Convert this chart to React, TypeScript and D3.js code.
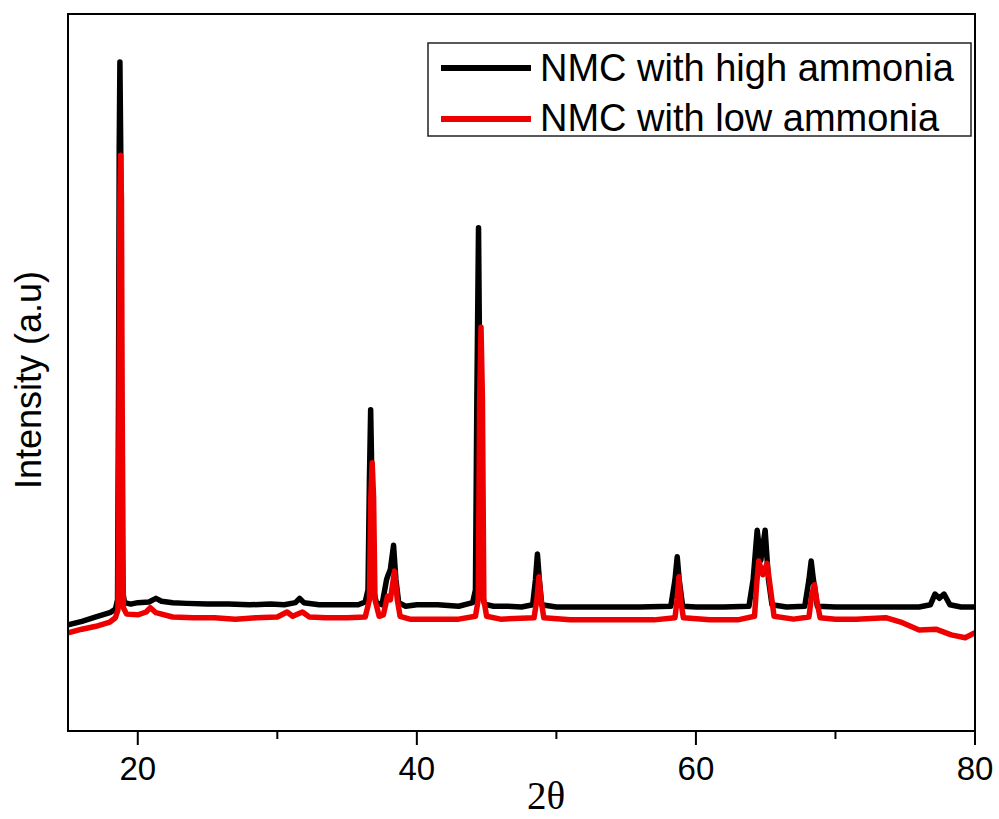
import React from "react";
import * as d3 from "d3";

// 2θ (deg) and intensity (a.u.)
const highTheta = [15.0,16.0,17.0,18.0,18.4,18.55,18.62,18.67,18.72,18.78,18.83,18.9,19.05,19.5,20.0,20.8,21.3,21.7,22.5,23.5,25,26.5,28,29.5,30.5,31.3,31.6,31.9,33,34.5,35.8,36.3,36.5,36.6,36.69,36.78,36.88,37.1,37.5,37.7,37.83,37.95,38.1,38.33,38.5,38.7,39.2,40,41.5,43,44.0,44.2,44.3,44.42,44.52,44.62,44.85,45.5,46.5,47.5,48.3,48.5,48.64,48.78,48.95,50,52,54,56,58.2,58.5,58.66,58.8,59.05,60,62,63.8,64.1,64.39,64.65,64.96,65.2,65.45,66.5,67.8,68.1,68.26,68.42,68.7,70,72,74,76,76.8,77.13,77.45,77.78,78.2,79,80];
const highInt = [148,153,159,165,170,183,462,810,933,810,462,197,179,177,179,180,185,181,179,178,177,177,176,177,176,179,185,179,176,176,176,180,197,349,448,349,197,179,176,197,211,218,225,259,211,179,174,176,176,174,179,197,462,702,462,197,177,174,174,173,176,211,247,211,176,173,173,173,173,174,211,243,211,174,173,173,174,211,280,238,280,211,176,173,174,211,237,211,174,173,173,173,173,176,191,185,191,176,173,173];

const lowTheta = [15.0,16,17,18,18.4,18.58,18.66,18.72,18.77,18.83,18.88,18.97,19.2,20,20.6,20.9,21.3,22.5,24,25.5,27,28.5,30,30.7,31.1,31.8,32.3,33.5,35,36.3,36.6,36.7,36.8,36.9,37.0,37.3,37.6,37.9,38.1,38.4,38.6,38.8,39.5,41,43,44.2,44.4,44.5,44.6,44.7,44.8,45.0,46,48.4,48.6,48.75,48.9,49.1,51,53,55,57,58.5,58.65,58.78,58.9,59.1,61,63,64.2,64.35,64.5,64.8,65.1,65.35,65.6,67,68.1,68.3,68.5,68.65,68.9,70,71.5,73.6,74.8,76.0,77.2,78.3,79.3,80];
const lowInt = [137,142,146,152,158,169,462,741,803,741,462,172,163,162,166,172,165,159,158,158,156,158,159,166,160,166,159,158,158,159,183,325,374,325,183,160,162,188,183,223,183,160,156,156,156,160,183,462,563,462,183,160,156,158,183,215,183,158,155,155,155,155,158,183,215,183,158,155,155,160,204,237,218,234,197,160,156,159,190,204,183,158,156,156,158,151,141,142,134,130,137];

const seriesNames = ["NMC with high ammonia", "NMC with low ammonia"];
const seriesColors = ["#000000", "#ee0000"];
const majorTicks = [20, 40, 60, 80];
const minorTicks = [30, 50, 70];
const xDomain = [15, 80];
const yDomain = [0, 1000];

const W = 999, H = 819;
const L = 68, R = 975, T = 14, B = 731;

export default function App() {
  const x = d3.scaleLinear().domain(xDomain).range([L, R]);
  const y = d3.scaleLinear().domain(yDomain).range([B, T]);
  const line = d3.line<[number, number]>().x(d => x(d[0])).y(d => y(d[1]));
  const high = highTheta.map((t, i) => [t, highInt[i]] as [number, number]);
  const low = lowTheta.map((t, i) => [t, lowInt[i]] as [number, number]);
  const font = "'Liberation Sans', Arial, sans-serif";
  return (
    <svg width={W} height={H} style={{ position: "absolute", left: 0, top: 0, background: "#fff" }}>
      <rect x={0} y={0} width={W} height={H} fill="#fff" />
      <defs>
        <clipPath id="plotclip"><rect x={L} y={T} width={R - L} height={B - T} /></clipPath>
      </defs>
      <g clipPath="url(#plotclip)">
        <path d={line(high) || ""} fill="none" stroke={seriesColors[0]} strokeWidth={5.5} strokeLinejoin="round" />
        <path d={line(low) || ""} fill="none" stroke={seriesColors[1]} strokeWidth={5.5} strokeLinejoin="round" />
      </g>
      <rect x={L} y={T} width={R - L} height={B - T} fill="none" stroke="#000" strokeWidth={2} />
      {majorTicks.map(t => (
        <g key={"M" + t}>
          <line x1={x(t)} x2={x(t)} y1={B} y2={B + 14} stroke="#000" strokeWidth={2} />
          <text x={x(t)} y={780} textAnchor="middle" fontFamily={font} fontSize={33} fill="#000">{t}</text>
        </g>
      ))}
      {minorTicks.map(t => (
        <line key={"m" + t} x1={x(t)} x2={x(t)} y1={B} y2={B + 8} stroke="#000" strokeWidth={2} />
      ))}
      <text x={546} y={809} textAnchor="middle" fontFamily="'Liberation Serif', 'Times New Roman', serif" fontSize={39} fill="#000">2θ</text>
      <text transform={`translate(41,380) rotate(-90)`} textAnchor="middle" fontFamily={font} fontSize={36} fill="#000">Intensity (a.u)</text>
      <rect x={428} y={43} width={543} height={93} fill="#fff" stroke="#222" strokeWidth={1.5} />
      {seriesNames.map((n, i) => (
        <g key={n}>
          <line x1={441} x2={531} y1={68 + i * 51} y2={68 + i * 51} stroke={seriesColors[i]} strokeWidth={6} />
          <text x={540} y={81 + i * 50} fontFamily={font} fontSize={38} fill="#000">{n}</text>
        </g>
      ))}
    </svg>
  );
}
